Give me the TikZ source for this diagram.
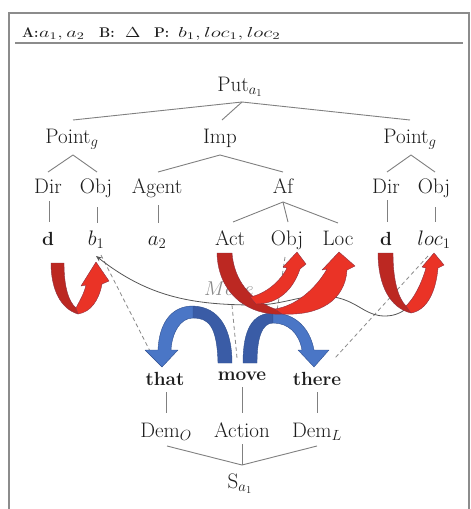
\documentclass[tikz,border=0pt]{standalone}
\usepackage{fix-cm}
\usepackage{graphicx}
\usetikzlibrary{calc,arrows.meta}
\definecolor{framecol}{HTML}{8C8C8C}
\definecolor{treecol}{HTML}{808080}
\definecolor{dashcol}{HTML}{8A8A8A}
\definecolor{txtcol}{HTML}{1E1E1E}
\definecolor{redDk}{HTML}{BC2822}
\definecolor{redBr}{HTML}{EA3326}
\definecolor{redLn}{HTML}{8E3040}
\definecolor{bluBr}{HTML}{4A76C6}
\definecolor{bluDk}{HTML}{3A5CA6}
\definecolor{bluLn}{HTML}{2F4F8F}
\begin{document}
\begin{tikzpicture}[x=1pt,y=-1pt,
  lbl/.style={anchor=base, inner sep=0pt, text=txtcol, font=\fontsize{21}{25}\selectfont},
  bw/.style={anchor=base, inner sep=0pt, text=txtcol, font=\fontsize{19}{23}\selectfont\bfseries},
  hd/.style={anchor=base west, inner sep=0pt, text=txtcol, font=\fontsize{14}{17}\selectfont\bfseries},
  hm/.style={anchor=base west, inner sep=0pt, text=txtcol, font=\fontsize{14.5}{17}\selectfont},
  tl/.style={draw=treecol, line width=0.9pt},
  dsh/.style={draw=dashcol, dash pattern=on 4pt off 3pt, line width=0.8pt},
  rdk/.style={fill=redDk, draw=redLn, line width=0.4pt, line join=round},
  rbr/.style={fill=redBr, draw=redLn, line width=0.4pt, line join=round},
  bdk/.style={fill=bluDk, draw=bluLn, line width=0.4pt, line join=round},
  bbr/.style={fill=bluBr, draw=bluLn, line width=0.4pt, line join=round}]
\fill[white] (0,0) rectangle (471,509);
\useasboundingbox (0,0) rectangle (471,509);
% frame
\draw[framecol, line width=1.2pt] (9,510) -- (9,13) -- (469,13) -- (469,510);
\draw[framecol, line width=1.6pt] (15,43) -- (463,43);
% header
\node[hd] (hA) at (22,37) {A:};
\node[hm] (hAv) at ($(hA.base east)+(0.3,0)$) {\scalebox{1.4}[1]{$a_1, a_2$}};
\node[hd] (hB) at (99,37) {B:};
\node[hm] (hBv) at (125,37) {\scalebox{1.3}[1]{$\Delta$}};
\node[hd] (hP) at (154,37) {P:};
\node[hm] (hPv) at (178,37) {\scalebox{1.45}[1]{$b_1, loc_1, loc_2$}};
% tree nodes
\node[lbl] (put) at (240,91) {Put$_{a_1}$};
\node[lbl] (pl) at (72,143) {Point$_g$};
\node[lbl] (imp) at (220,143) {Imp};
\node[lbl] (pr) at (410,143) {Point$_g$};
\node[lbl] (dirl) at (48,193) {Dir};
\node[lbl] (objl) at (96,193) {Obj};
\node[lbl] (agent) at (157,193) {Agent};
\node[lbl] (af) at (283,193) {Af};
\node[lbl] (dirr) at (386,193) {Dir};
\node[lbl] (objr) at (434,193) {Obj};
\node[bw] (dl) at (48,245) {d};
\node[lbl] (b1) at (96,245) {$b_1$};
\node[lbl] (a2) at (157,245) {$a_2$};
\node[lbl] (act) at (230,245) {Act};
\node[lbl] (objaf) at (287,245) {Obj};
\node[lbl] (loc) at (338,245) {Loc};
\node[bw] (dr) at (386,245) {d};
\node[lbl] (loc1) at (434,245) {$loc_1$};
\node[bw] (that) at (165,385) {that};
\node[bw] (move) at (242,380) {move};
\node[bw] (there) at (317,385) {there};
\node[lbl] (demo) at (166,437) {Dem$_O$};
\node[lbl] (action) at (242,437) {Action};
\node[lbl] (deml) at (317,437) {Dem$_L$};
\node[lbl] (s) at (240,488) {S$_{a_1}$};
\node[anchor=base, inner sep=0pt, text=dashcol, font=\fontsize{20}{24}\selectfont] (mv) at (229,295) {$Move$};
% tree lines
\draw[tl] ($(put.base)+(2,11)$) -- ($(pl.base)+(1,-23)$);
\draw[tl] ($(put.base)+(2,11)$) -- ($(imp.base)+(2,-23)$);
\draw[tl] ($(put.base)+(2,11)$) -- ($(pr.base)+(0,-23)$);
\draw[tl] ($(pl.base)+(1,12)$) -- ($(dirl.base)+(0,-21)$);
\draw[tl] ($(pl.base)+(1,12)$) -- ($(objl.base)+(1,-21)$);
\draw[tl] ($(imp.base)+(0,12)$) -- ($(agent.base)+(1,-21)$);
\draw[tl] ($(imp.base)+(0,12)$) -- ($(af.base)+(0,-21)$);
\draw[tl] ($(pr.base)+(1,12)$) -- ($(dirr.base)+(1,-21)$);
\draw[tl] ($(pr.base)+(1,12)$) -- ($(objr.base)+(1,-21)$);
\draw[tl] ($(dirl.base)+(1,8)$) -- ($(dl.base)+(1,-23)$);
\draw[tl] ($(objl.base)+(1,14)$) -- ($(b1.base)+(1,-22)$);
\draw[tl] ($(agent.base)+(1,12)$) -- ($(a2.base)+(1,-22)$);
\draw[tl] ($(af.base)+(0,9)$) -- ($(act.base)+(3,-23)$);
\draw[tl] ($(af.base)+(0,9)$) -- ($(objaf.base)+(1,-23)$);
\draw[tl] ($(af.base)+(0,9)$) -- ($(loc.base)+(0,-22)$);
\draw[tl] ($(dirr.base)+(1,7)$) -- ($(dr.base)+(1,-23)$);
\draw[tl] ($(objr.base)+(1,14)$) -- ($(loc1.base)+(1,-23)$);
\draw[tl] ($(that.base)+(1,7)$) -- ($(demo.base)+(0,-24)$);
\draw[tl] ($(move.base)+(0,7)$) -- ($(action.base)+(0,-24)$);
\draw[tl] ($(there.base)+(0,7)$) -- ($(deml.base)+(0,-24)$);
\draw[tl] ($(demo.base)+(1,9)$) -- ($(s.base)+(2,-23)$);
\draw[tl] ($(action.base)+(0,7)$) -- ($(s.base)+(2,-23)$);
\draw[tl] ($(deml.base)+(0,9)$) -- ($(s.base)+(2,-23)$);
% dashed links
\coordinate (objend) at (276,318);
\draw[dsh] ($(b1.base)+(5,10)$) -- ($(that.base)+(-12,-28)$);
\draw[dsh] ($(mv.base)+(3,10)$) -- ($(move.base)+(-5,-22)$);
\draw[dsh] ($(objaf.base)+(-2,12)$) -- (objend);
\draw[dsh] ($(loc1.base)+(-6,11)$) -- ($(there.base)+(18,-27)$);
% solid curve
\coordinate (lcE) at (427,283);
\draw[draw=txtcol!75, line width=0.8pt, -{Stealth[length=6pt,width=5pt]}]
  (lcE) to[out=235,in=0] (385,316) to[out=180,in=-20] (345,300)
  to[out=160,in=0] (255,305) to[out=180,in=-38] ($(b1.base)+(0,11)$);
% blue arrows
\path[bdk] (218,363) -- (232,363) .. controls (232,330) and (220,307) .. (193,306)
  -- (193,318) .. controls (208,318) and (217,325) .. (218,363) -- cycle;
\path[bbr] (193,306) .. controls (170,306) and (159,325) .. (158,350) -- (145,350)
  -- (162,367) -- (178,350) -- (171,350) .. controls (172,333) and (180,318) .. (193,318) -- cycle;
\path[bdk] (243,363) .. controls (243,330) and (252,313) .. (273,313) -- (273,323)
  .. controls (262,323) and (257,338) .. (257,363) -- cycle;
\path[bbr] (273,313) .. controls (295,313) and (310,328) .. (314,350) -- (329,350)
  -- (314,367) -- (298,350) -- (302,350) .. controls (299,333) and (288,323) .. (273,323) -- cycle;
% red arrows
\path[rdk] (51,263) -- (64,263) .. controls (64,288) and (69,302) .. (76,308) -- (78,314)
  .. controls (61,309) and (51,290) .. cycle;
\path[rbr] (76,308) .. controls (80,300) and (84,294) .. (86,285) -- (81,286) -- (96,262)
  -- (109,281) -- (102,284) .. controls (99,300) and (91,312) .. (78,314) -- cycle;
\path[rdk] (217,253) -- (232,253) .. controls (234,280) and (250,300) .. (275,309) -- (282,314)
  .. controls (250,316) and (218,295) .. cycle;
\path[rbr] (275,309) .. controls (295,306) and (315,290) .. (327,269) -- (322,270) -- (339,252)
  -- (355,266) -- (347,270) .. controls (345,300) and (320,316) .. (282,314) -- cycle;
\path[rbr] (250,297) .. controls (265,294) and (280,282) .. (287,268) -- (283,267) -- (297,252)
  -- (306,264) -- (300,269) .. controls (293,290) and (278,304) .. (256,304) -- cycle;
\path[rdk] (378,253) -- (393,253) .. controls (393,280) and (398,298) .. (406,306) -- (411,313)
  .. controls (390,308) and (378,285) .. cycle;
\path[rbr] (406,306) .. controls (414,298) and (421,285) .. (426,268) -- (422,267) -- (434,253)
  -- (444,265) -- (438,268) .. controls (436,290) and (428,310) .. (411,313) -- cycle;
\end{tikzpicture}
\end{document}
